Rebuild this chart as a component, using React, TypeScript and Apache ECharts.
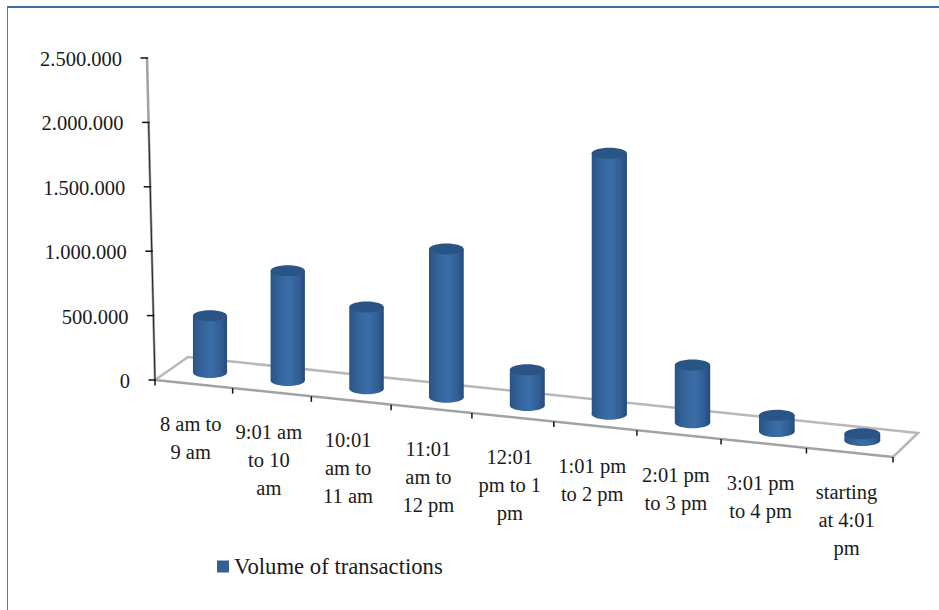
import React, { useEffect, useRef } from "react";
import * as echarts from "echarts";

const categories = [
  "8 am to\n9 am",
  "9:01 am\nto 10\nam",
  "10:01\nam to\n11 am",
  "11:01\nam to\n12 pm",
  "12:01\npm to 1\npm",
  "1:01 pm\nto 2 pm",
  "2:01 pm\nto 3 pm",
  "3:01 pm\nto 4 pm",
  "starting\nat 4:01\npm",
];
const transactionVolumes = [440000, 845000, 625000, 1125000, 270000, 1955000, 430000, 120000, 50000];
const yTickValues = [0, 500000, 1000000, 1500000, 2000000, 2500000];
const yTickLabels = ["0", "500.000", "1.000.000", "1.500.000", "2.000.000", "2.500.000"];
const seriesName = "Volume of transactions";

const FONT = '"Liberation Serif", serif';
const TEXT = "#1a1a1a";
const GRID = { left: 155, top: 58, width: 738, height: 322 };
const FOCAL = 1.063; // horizontal foreshortening along the receding front edge

// Floor plan: front edge and its offset towards the back, at both ends.
const FRONT_DROP = 77;
const BACK_LEFT = { dx: 33, dy: -23 };
const BACK_RIGHT = { dx: 25, dy: -24 };
const AXIS_LEAN = 8; // the value axis leans left by this many pixels at its top

// Sends a flat grid position to the tilted view; depth 0 is the front edge, 1 the back.
function toView(gridX: number, gridY: number, depth: number) {
  const t = (gridX - GRID.left) / GRID.width;
  const s = t / (FOCAL - (FOCAL - 1) * t);
  const scale = 1 + 0.06 * s;
  const lift = (GRID.top + GRID.height - gridY) * scale;
  const dx = BACK_LEFT.dx + (BACK_RIGHT.dx - BACK_LEFT.dx) * s;
  const dy = BACK_LEFT.dy + (BACK_RIGHT.dy - BACK_LEFT.dy) * s;
  return {
    s,
    x: GRID.left + GRID.width * s + dx * depth,
    y: GRID.top + GRID.height + FRONT_DROP * s + dy * depth - lift,
  };
}

function barBody(params: any, api: any) {
  const [gx, gy] = api.coord([api.value(0), api.value(1)]);
  const base = toView(gx, GRID.top + GRID.height, 0.5);
  const top = toView(gx, gy, 0.5);
  const w = 34 + 2 * base.s;
  const ry = 5.5;
  const side = new echarts.graphic.LinearGradient(0, 0, 1, 0, [
    { offset: 0, color: "#2b5484" },
    { offset: 0.25, color: "#33639b" },
    { offset: 0.55, color: "#3b6ea8" },
    { offset: 0.85, color: "#2f5c92" },
    { offset: 1, color: "#26497a" },
  ]);
  const fill = { fill: side };
  return {
    type: "group",
    children: [
      { type: "ellipse", shape: { cx: base.x, cy: base.y, rx: w / 2, ry }, style: fill },
      { type: "rect", shape: { x: base.x - w / 2, y: top.y, width: w, height: base.y - top.y }, style: fill },
      { type: "ellipse", shape: { cx: top.x, cy: top.y, rx: w / 2, ry }, style: { fill: "#2a5485" } },
    ],
  };
}

function floorAndEdges(params: any, api: any) {
  const band = api.size([1, 0])[0];
  const bottom = GRID.top + GRID.height;
  const fl = toView(GRID.left, bottom, 0);
  const fr = toView(GRID.left + GRID.width, bottom, 0);
  const bl = toView(GRID.left, bottom, 1);
  const br = toView(GRID.left + GRID.width, bottom, 1);
  const axisTop = api.coord([0, yTickValues[yTickValues.length - 1]])[1];
  const upper = api.coord([0, yTickValues[yTickValues.length - 2]])[1];
  const children: any[] = [
    {
      type: "polyline",
      shape: { points: [[fl.x, fl.y], [bl.x, bl.y], [br.x, br.y], [fr.x, fr.y]] },
      style: { stroke: "#b8b8b8", lineWidth: 2.5, fill: null },
    },
    {
      type: "line",
      shape: { x1: fl.x, y1: fl.y, x2: fr.x, y2: fr.y },
      style: { stroke: "#a2a2a2", lineWidth: 2.5 },
    },
    {
      type: "line",
      shape: { x1: fl.x, y1: fl.y, x2: fl.x - AXIS_LEAN, y2: axisTop },
      style: { stroke: "#a0a0a0", lineWidth: 2.5 },
    },
    {
      type: "line",
      shape: {
        x1: fl.x,
        y1: fl.y,
        x2: fl.x - (AXIS_LEAN * (bottom - upper)) / GRID.height,
        y2: upper,
      },
      style: { stroke: "#222222", lineWidth: 1 },
    },
  ];
  for (let i = 0; i <= categories.length; i++) {
    const p = toView(GRID.left + band * i, bottom, 0);
    children.push({
      type: "line",
      shape: { x1: p.x, y1: p.y, x2: p.x, y2: p.y + 5.5 },
      style: { stroke: "#111111", lineWidth: 1.5 },
    });
  }
  return { type: "group", children };
}

function valueTick(params: any, api: any) {
  const y = api.coord([0, api.value(1)])[1];
  const x = GRID.left - (AXIS_LEAN * (GRID.top + GRID.height - y)) / GRID.height;
  return {
    type: "group",
    children: [
      {
        type: "line",
        shape: { x1: x - 6.5, y1: y, x2: x + 1, y2: y },
        style: { stroke: "#111111", lineWidth: 1.5 },
      },
      {
        type: "text",
        style: {
          x: x - 25,
          y: y + 1,
          text: yTickLabels[params.dataIndex],
          align: "right",
          verticalAlign: "middle",
          font: `20.5px ${FONT}`,
          fill: TEXT,
        },
      },
    ],
  };
}

function categoryLabel(params: any, api: any) {
  const gx = api.coord([api.value(0), 0])[0];
  const p = toView(gx, GRID.top + GRID.height, 0);
  return {
    type: "text",
    style: {
      x: p.x - 3,
      y: p.y + 26,
      text: categories[params.dataIndex],
      align: "center",
      verticalAlign: "top",
      lineHeight: 28,
      font: `20.5px ${FONT}`,
      fill: TEXT,
    },
  };
}

export default function App() {
  const ref = useRef<HTMLDivElement>(null);

  useEffect(() => {
    const chart = echarts.init(ref.current!, null, { renderer: "svg" });
    chart.setOption({
      animation: false,
      backgroundColor: "#ffffff",
      grid: { ...GRID },
      xAxis: { type: "category", data: categories, show: false },
      yAxis: { type: "value", min: 0, max: 2500000, interval: 500000, show: false },
      legend: {
        data: [seriesName],
        left: 212,
        top: 550,
        icon: "rect",
        itemWidth: 12,
        itemHeight: 12,
        itemGap: 8,
        selectedMode: false,
        textStyle: { fontFamily: FONT, fontSize: 22.7, color: TEXT },
      },
      graphic: [
        { type: "line", shape: { x1: 7, y1: 7, x2: 939, y2: 7 }, style: { stroke: "#3b6ea6", lineWidth: 2 } },
        { type: "line", shape: { x1: 7.5, y1: 7, x2: 7.5, y2: 610 }, style: { stroke: "#3a80c8", lineWidth: 1 } },
      ],
      series: [
        {
          name: "floor",
          type: "custom",
          silent: true,
          clip: false,
          renderItem: floorAndEdges,
          data: [[0, 0]],
          encode: { x: 0, y: 1 },
        },
        {
          name: "value ticks",
          type: "custom",
          silent: true,
          clip: false,
          renderItem: valueTick,
          data: yTickValues.map((v) => [0, v]),
          encode: { x: 0, y: 1 },
        },
        {
          name: "category labels",
          type: "custom",
          silent: true,
          clip: false,
          renderItem: categoryLabel,
          data: categories.map((_, i) => [i, 0]),
          encode: { x: 0, y: 1 },
        },
        {
          name: seriesName,
          type: "custom",
          silent: true,
          clip: false,
          itemStyle: { color: "#345f95" },
          renderItem: barBody,
          data: transactionVolumes.map((v, i) => [i, v]),
          encode: { x: 0, y: 1 },
        },
      ],
    });
    return () => chart.dispose();
  }, []);

  return <div ref={ref} style={{ position: "fixed", left: 0, top: 0, width: 939, height: 610 }} />;
}
